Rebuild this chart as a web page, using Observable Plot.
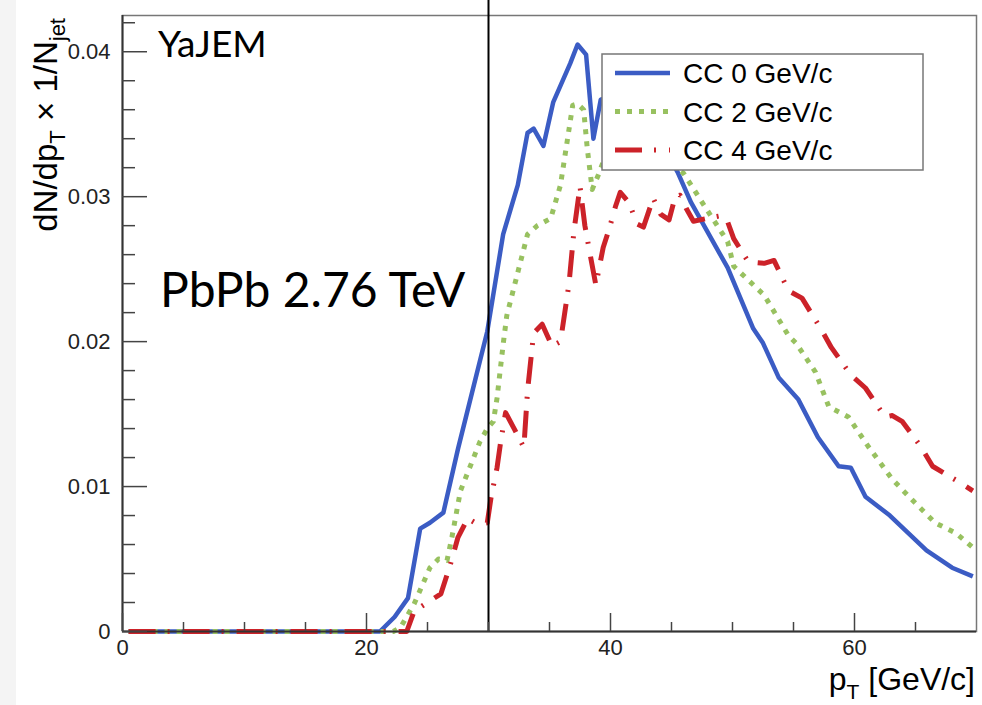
<!DOCTYPE html>
<html>
<head>
<meta charset="utf-8">
<script src="https://cdn.jsdelivr.net/npm/d3@7"></script>
<script src="https://cdn.jsdelivr.net/npm/@observablehq/plot@0.6"></script>
<style>
  html, body { margin: 0; padding: 0; background: #ffffff; }
  #chart svg { display: block; }
</style>
</head>
<body>
<div id="chart"></div>
<script>
// ---- data ----
const seriesNames = ["CC 0 GeV/c", "CC 2 GeV/c", "CC 4 GeV/c"];

const cc0X = [0.5, 21.1, 22.3, 23.4, 24.4, 25.2, 26.3, 27.5, 29.9, 31.2,
  32.4, 33.2, 33.7, 34.5, 35.3, 36.7, 37.3, 38.0, 38.6, 39.2,
  40.3, 41.5, 43.0, 44.3, 45.5, 46.6, 49.6, 51.7, 52.5, 53.8,
  55.4, 57.0, 58.7, 59.7, 60.9, 62.9, 65.9, 68.0, 69.7];
const cc0Y = [0, 0, 0.0010, 0.0023, 0.0071, 0.0075, 0.0082, 0.0126, 0.0207, 0.0274,
  0.0308, 0.0344, 0.0347, 0.0335, 0.0365, 0.0392, 0.0405, 0.0398, 0.0340, 0.0367,
  0.0370, 0.0362, 0.0350, 0.0335, 0.0317, 0.0296, 0.0251, 0.0209, 0.0199, 0.0175,
  0.0160, 0.0134, 0.0114, 0.0113, 0.0093, 0.0080, 0.0056, 0.0044, 0.0038];

const cc2X = [0.5, 22.2, 22.8, 23.9, 25.2, 25.9, 26.6, 27.0, 27.7, 29.3,
  29.9, 30.4, 30.7, 31.2, 31.5, 33.2, 34.0, 35.1, 35.9, 36.9,
  37.3, 37.8, 38.1, 38.5, 39.0, 39.4, 40.5, 42.0, 43.5, 45.0,
  46.0, 47.9, 49.6, 50.1, 52.6, 54.6, 55.2, 56.8, 57.9, 59.5,
  61.1, 63.1, 64.7, 66.6, 68.3, 69.7];
const cc2Y = [0, 0, 0.0003, 0.0019, 0.0044, 0.0050, 0.0049, 0.0065, 0.0097, 0.0131,
  0.0140, 0.0145, 0.0161, 0.0198, 0.0218, 0.0274, 0.0280, 0.0285, 0.0308, 0.0363,
  0.0364, 0.0360, 0.0333, 0.0305, 0.0315, 0.0324, 0.0332, 0.0335, 0.0330, 0.0323,
  0.0316, 0.0291, 0.0269, 0.0252, 0.0232, 0.0204, 0.0199, 0.0179, 0.0155, 0.0148,
  0.0128, 0.0105, 0.0091, 0.0075, 0.0068, 0.0058];

const cc4X = [0.5, 23.3, 23.9, 25.0, 26.1, 26.9, 27.5, 28.3, 29.1, 29.9,
  30.2, 30.7, 31.0, 31.4, 32.1, 32.9, 33.2, 33.7, 34.4, 35.2,
  35.9, 36.6, 37.0, 37.5, 37.9, 38.4, 38.8, 39.4, 39.9, 40.4,
  40.8, 41.5, 42.2, 42.7, 43.5, 44.1, 44.8, 45.3, 45.7, 46.2,
  46.8, 47.9, 49.1, 49.5, 50.1, 51.3, 52.6, 53.4, 54.6, 55.7,
  57.3, 58.1, 59.7, 60.9, 62.5, 63.1, 63.9, 65.4, 66.4, 68.4, 69.7];
const cc4Y = [0, 0, 0.0014, 0.0020, 0.0026, 0.0047, 0.0065, 0.0078, 0.0074, 0.0075,
  0.0092, 0.0113, 0.0131, 0.0151, 0.0140, 0.0127, 0.0166, 0.0206, 0.0212, 0.0197,
  0.0200, 0.0240, 0.0276, 0.0307, 0.0280, 0.0257, 0.0239, 0.0265, 0.0278, 0.0293,
  0.0303, 0.0296, 0.0281, 0.0279, 0.0299, 0.0288, 0.0284, 0.0300, 0.0301, 0.0292,
  0.0283, 0.0285, 0.0287, 0.0285, 0.0271, 0.0255, 0.0254, 0.0256, 0.0235, 0.0230,
  0.0208, 0.0196, 0.0177, 0.0168, 0.0148, 0.0149, 0.0145, 0.0128, 0.0114, 0.0104, 0.0097];

const cutX = [30];                       // vertical marker line
const xMajorTicks = [0, 20, 40, 60];
const xMinorTicks = [5, 10, 15, 25, 30, 35, 45, 50, 55, 65];
const yMajorTicks = [0, 0.01, 0.02, 0.03, 0.04];
const yMinorTicks = [0.002, 0.004, 0.006, 0.008, 0.012, 0.014, 0.016, 0.018,
  0.022, 0.024, 0.026, 0.028, 0.032, 0.034, 0.036, 0.038, 0.042];

// ---- styles ----
const colors = ["#3b5cc4", "#98c160", "#cc2229"];
const widths = [4.5, 5, 5];
const dashes = [null, "5,7", "27,12,2,13"];

const toRows = (xs, ys) => xs.map((x, i) => ({x, y: ys[i]}));
const series = [toRows(cc0X, cc0Y), toRows(cc2X, cc2Y), toRows(cc4X, cc4Y)];

const W = 982, H = 705;
const font = "'Liberation Sans', Arial, Helvetica, sans-serif";

const plot = Plot.plot({
  width: W,
  height: H,
  marginLeft: 122,
  marginRight: 6,
  marginTop: 15,
  marginBottom: 74,
  x: {domain: [0, 70]},
  y: {domain: [0, 0.0425]},
  style: {fontFamily: font, fontSize: "22px", color: "#222", background: "transparent", overflow: "visible"},
  marks: [
    Plot.frame({stroke: "#777", strokeWidth: 1.5}),
    ...series.map((d, i) => Plot.line(d, {
      x: "x", y: "y",
      stroke: colors[i],
      strokeWidth: widths[i],
      strokeDasharray: dashes[i] ?? undefined,
      strokeLinejoin: "round",
      strokeLinecap: "butt"
    })),
    Plot.ruleX(cutX, {stroke: "#000", strokeWidth: 2, insetTop: -15}),
    Plot.ruleY([0], {stroke: "#333", strokeWidth: 2}),
    Plot.ruleX([0], {stroke: "#333", strokeWidth: 2}),
    // ticks (inward)
    Plot.axisX(xMajorTicks, {tickSize: -18, tickFormat: () => "", stroke: "#444", strokeWidth: 1.5, label: null}),
    Plot.axisX(xMinorTicks, {tickSize: -9, tickFormat: () => "", stroke: "#444", strokeWidth: 1.5, label: null}),
    Plot.axisY(yMajorTicks, {tickSize: -25, tickFormat: () => "", stroke: "#444", strokeWidth: 1.5, label: null}),
    Plot.axisY(yMinorTicks, {tickSize: -13, tickFormat: () => "", stroke: "#444", strokeWidth: 1.5, label: null}),
    // tick labels
    Plot.axisX(xMajorTicks, {tickSize: 0, tickPadding: 8, tickFormat: d => String(d), label: null, fontSize: 22, fill: "#222"}),
    Plot.axisY(yMajorTicks, {tickSize: 0, tickPadding: 12, tickFormat: d => d === 0 ? "0" : d.toFixed(2), label: null, fontSize: 22, fill: "#222"})
  ]
});

document.getElementById("chart").appendChild(plot);

const svg = d3.select(plot);
// light grey strip at the left edge of the slide
svg.insert("rect", ":first-child")
  .attr("x", 0).attr("y", 0).attr("width", 16).attr("height", H).attr("fill", "#f4f4f4");

// annotation texts
svg.append("text").attr("x", 158).attr("y", 57).attr("text-anchor", "start")
  .attr("font-family", "Lato, 'Open Sans', sans-serif").attr("font-size", 37).attr("fill", "#000")
  .text("YaJEM");
svg.append("text").attr("x", 160).attr("y", 307).attr("text-anchor", "start")
  .attr("font-family", "Lato, 'Open Sans', sans-serif").attr("font-size", 48).attr("fill", "#000")
  .text("PbPb 2.76 TeV");

// y axis title (rotated)
const yt = svg.append("text")
  .attr("transform", "translate(57,18) rotate(-90)")
  .attr("text-anchor", "end")
  .attr("font-family", font).attr("font-size", 33).attr("fill", "#000");
yt.append("tspan").text("dN/dp");
yt.append("tspan").attr("font-size", 22).attr("dy", 8).text("T");
yt.append("tspan").attr("dy", -8).text(" \u00d7 1/N");
yt.append("tspan").attr("font-size", 22).attr("dy", 8).text("jet");

// x axis title
const xt = svg.append("text")
  .attr("x", 975).attr("y", 690)
  .attr("text-anchor", "end")
  .attr("font-family", font).attr("font-size", 32).attr("fill", "#000");
xt.append("tspan").text("p");
xt.append("tspan").attr("font-size", 21).attr("dy", 9).text("T");
xt.append("tspan").attr("dy", -9).text(" [GeV/c]");

// legend
const lg = svg.append("g");
lg.append("rect").attr("x", 602).attr("y", 54).attr("width", 321).attr("height", 116)
  .attr("fill", "#fff").attr("stroke", "#777").attr("stroke-width", 1.5);
seriesNames.forEach((name, i) => {
  const yy = 73 + i * 38.5;
  lg.append("line").attr("x1", 615).attr("x2", 670).attr("y1", yy).attr("y2", yy)
    .attr("stroke", colors[i]).attr("stroke-width", widths[i])
    .attr("stroke-dasharray", dashes[i]);
  lg.append("text").attr("x", 683).attr("y", yy).attr("dy", "0.36em").attr("text-anchor", "start")
    .attr("font-family", font).attr("font-size", 28).attr("fill", "#000")
    .text(name);
});
</script>
</body>
</html>
